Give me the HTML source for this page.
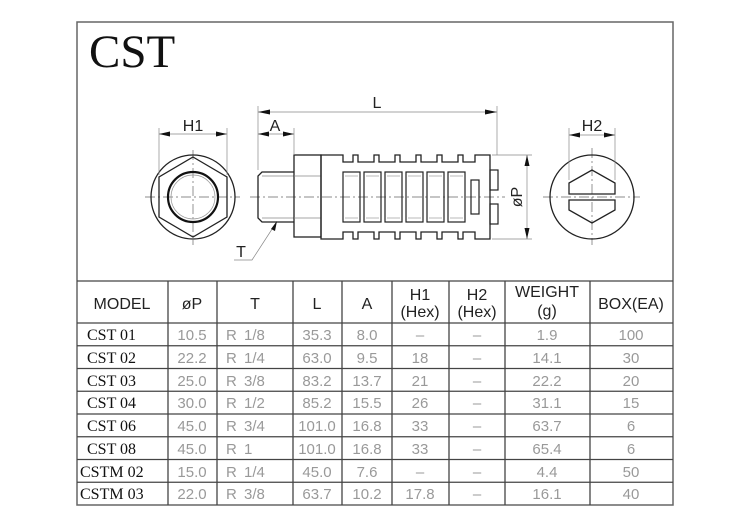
<!DOCTYPE html>
<html><head><meta charset="utf-8"><style>
html,body{margin:0;padding:0;background:#fff;}
svg{display:block;}
.d{fill:none;stroke:#222;stroke-width:1.3}
.t{fill:none;stroke:#888;stroke-width:0.7}
.c{fill:none;stroke:#666;stroke-width:0.7;stroke-dasharray:10 3 2 3}
.h{font-family:"Liberation Sans",sans-serif;font-size:16px;fill:#222;text-anchor:middle}
.v{font-family:"Liberation Sans",sans-serif;font-size:15px;fill:#999;text-anchor:middle}
.m{font-family:"Liberation Serif",serif;font-size:16px;fill:#111}
</style></head><body>
<svg width="750" height="530" viewBox="0 0 750 530" xmlns="http://www.w3.org/2000/svg">
<rect x="77" y="22" width="596" height="483" fill="none" stroke="#666" stroke-width="1.5"/>
<text x="89" y="67" font-family="Liberation Serif,serif" font-size="47" fill="#111">CST</text>

<line class="c" x1="145" y1="197" x2="240" y2="197"/>
<line class="c" x1="193" y1="150" x2="193" y2="245"/>
<circle class="d" cx="193" cy="197" r="42"/>
<polygon class="d" points="193,157 227,177 227,217 193,237 159,217 159,177"/>
<circle cx="193" cy="197" r="25" fill="none" stroke="#111" stroke-width="2.2"/>
<circle cx="193" cy="197" r="22" fill="none" stroke="#999" stroke-width="0.7"/>
<line class="t" x1="159" y1="175" x2="159" y2="128"/><line class="t" x1="227" y1="175" x2="227" y2="128"/>
<line class="t" x1="159" y1="134" x2="227" y2="134"/>
<polygon points="159,134 170,131.5 170,136.5" fill="#111"/><polygon points="227,134 216,131.5 216,136.5" fill="#111"/>
<text class="h" x="193" y="131">H1</text>

<line class="c" x1="250" y1="197" x2="505" y2="197"/>
<path class="d" d="M294,172 H262 L258,176 V218 L262,222 H294"/>
<line class="t" x1="262" y1="176" x2="294" y2="176"/><line class="t" x1="262" y1="218" x2="294" y2="218"/>
<rect class="d" x="294" y="155" width="27" height="82"/>
<line class="t" x1="294" y1="176" x2="321" y2="176"/><line class="t" x1="294" y1="218" x2="321" y2="218"/>
<path class="d" d="M321,155 H343 V162 H353 V155 H358 V162 H374 V155 H379 V162 H395 V155 H400 V162 H416 V155 H421 V162 H437 V155 H442 V162 H458 V155 H463 V162 H475 V155 H490 V239 H475 V232 H463 V239 H458 V232 H442 V239 H437 V232 H421 V239 H416 V232 H400 V239 H395 V232 H379 V239 H374 V232 H358 V239 H353 V232 H343 V239 H321 Z"/>
<g fill="none" stroke="#222" stroke-width="1.2">
<rect x="343" y="172" width="17" height="50"/><rect x="364" y="172" width="17" height="50"/><rect x="385" y="172" width="17" height="50"/>
<rect x="406" y="172" width="17" height="50"/><rect x="427" y="172" width="17" height="50"/><rect x="448" y="172" width="17" height="50"/>
<rect x="471" y="180" width="8" height="34"/>
<rect x="490" y="170" width="8" height="20"/><rect x="490" y="204" width="8" height="20"/>
</g>
<g stroke="#777" stroke-width="0.6" fill="none">
<path d="M345,176 h13 M345,218 h13 M366,176 h13 M366,218 h13 M387,176 h13 M387,218 h13 M408,176 h13 M408,218 h13 M429,176 h13 M429,218 h13 M450,176 h13 M450,218 h13"/>
</g>
<line class="t" x1="258" y1="170" x2="258" y2="106"/><line class="t" x1="497" y1="155" x2="497" y2="106"/>
<line class="t" x1="258" y1="112" x2="497" y2="112"/>
<polygon points="258,112 270,109.5 270,114.5" fill="#111"/><polygon points="497,112 485,109.5 485,114.5" fill="#111"/>
<text class="h" x="377" y="108">L</text>
<line class="t" x1="294" y1="155" x2="294" y2="128"/>
<line class="t" x1="258" y1="134" x2="294" y2="134"/>
<polygon points="258,134 269,131.5 269,136.5" fill="#111"/><polygon points="294,134 283,131.5 283,136.5" fill="#111"/>
<text class="h" x="275" y="131">A</text>
<polyline class="t" points="234,260 252,260 276,223"/>
<polygon points="277,221 271,229 275,231" fill="#111"/>
<text class="h" x="241" y="257">T</text>
<line class="t" x1="492" y1="155" x2="532" y2="155"/><line class="t" x1="492" y1="239" x2="532" y2="239"/>
<line class="t" x1="527" y1="155" x2="527" y2="239"/>
<polygon points="527,155 524.5,166 529.5,166" fill="#111"/><polygon points="527,239 524.5,228 529.5,228" fill="#111"/>
<text class="h" x="0" y="0" transform="translate(522,197) rotate(-90)">øP</text>

<line class="c" x1="543" y1="197" x2="640" y2="197"/>
<line class="c" x1="592" y1="148" x2="592" y2="245"/>
<circle class="d" cx="592" cy="197" r="42"/>
<path class="d" d="M569,194 V183 L592,170 L615,183 V194 Z M569,200 V210 L592,223 L615,210 V200 Z"/>
<line class="t" x1="569" y1="180" x2="569" y2="128"/><line class="t" x1="615" y1="180" x2="615" y2="128"/>
<line class="t" x1="569" y1="135" x2="615" y2="135"/>
<polygon points="569,135 580,132.5 580,137.5" fill="#111"/><polygon points="615,135 604,132.5 604,137.5" fill="#111"/>
<text class="h" x="592" y="131">H2</text>

<g stroke="#444" stroke-width="1.3">
<line x1="77" y1="281" x2="673" y2="281"/>
<line x1="77" y1="323" x2="673" y2="323"/>
<line x1="77" y1="345.75" x2="673" y2="345.75"/>
<line x1="77" y1="368.5" x2="673" y2="368.5"/>
<line x1="77" y1="391.25" x2="673" y2="391.25"/>
<line x1="77" y1="414" x2="673" y2="414"/>
<line x1="77" y1="436.75" x2="673" y2="436.75"/>
<line x1="77" y1="459.5" x2="673" y2="459.5"/>
<line x1="77" y1="482.25" x2="673" y2="482.25"/>
<line x1="168" y1="281" x2="168" y2="505"/><line x1="217" y1="281" x2="217" y2="505"/>
<line x1="293" y1="281" x2="293" y2="505"/><line x1="342" y1="281" x2="342" y2="505"/>
<line x1="392" y1="281" x2="392" y2="505"/><line x1="449" y1="281" x2="449" y2="505"/>
<line x1="505" y1="281" x2="505" y2="505"/><line x1="590" y1="281" x2="590" y2="505"/>
</g>
<text class="h" x="122" y="309">MODEL</text>
<text class="h" x="192" y="309">øP</text>
<text class="h" x="255" y="309">T</text>
<text class="h" x="317" y="309">L</text>
<text class="h" x="367" y="309">A</text>
<text class="h" x="420" y="300">H1</text><text class="h" x="420" y="317">(Hex)</text>
<text class="h" x="477" y="300">H2</text><text class="h" x="477" y="317">(Hex)</text>
<text class="h" x="547" y="297">WEIGHT</text><text class="h" x="547" y="316">(g)</text>
<text class="h" x="631" y="309">BOX(EA)</text>

<g class="m" xml:space="preserve">
<text x="87" y="340">CST 01</text>
<text x="87" y="363">CST 02</text>
<text x="87" y="386">CST 03</text>
<text x="87" y="408">CST 04</text>
<text x="87" y="431">CST 06</text>
<text x="87" y="454">CST 08</text>
<text x="80" y="477">CSTM  02</text>
<text x="80" y="499">CSTM  03</text>
</g>
<g class="v">
<text x="192" y="340">10.5</text><text x="192" y="363">22.2</text><text x="192" y="386">25.0</text><text x="192" y="408">30.0</text><text x="192" y="431">45.0</text><text x="192" y="454">45.0</text><text x="192" y="477">15.0</text><text x="192" y="499">22.0</text>
<text x="317" y="340">35.3</text><text x="317" y="363">63.0</text><text x="317" y="386">83.2</text><text x="317" y="408">85.2</text><text x="317" y="431">101.0</text><text x="317" y="454">101.0</text><text x="317" y="477">45.0</text><text x="317" y="499">63.7</text>
<text x="367" y="340">8.0</text><text x="367" y="363">9.5</text><text x="367" y="386">13.7</text><text x="367" y="408">15.5</text><text x="367" y="431">16.8</text><text x="367" y="454">16.8</text><text x="367" y="477">7.6</text><text x="367" y="499">10.2</text>
<text x="420" y="340">–</text><text x="420" y="363">18</text><text x="420" y="386">21</text><text x="420" y="408">26</text><text x="420" y="431">33</text><text x="420" y="454">33</text><text x="420" y="477">–</text><text x="420" y="499">17.8</text>
<text x="477" y="340">–</text><text x="477" y="363">–</text><text x="477" y="386">–</text><text x="477" y="408">–</text><text x="477" y="431">–</text><text x="477" y="454">–</text><text x="477" y="477">–</text><text x="477" y="499">–</text>
<text x="547" y="340">1.9</text><text x="547" y="363">14.1</text><text x="547" y="386">22.2</text><text x="547" y="408">31.1</text><text x="547" y="431">63.7</text><text x="547" y="454">65.4</text><text x="547" y="477">4.4</text><text x="547" y="499">16.1</text>
<text x="631" y="340">100</text><text x="631" y="363">30</text><text x="631" y="386">20</text><text x="631" y="408">15</text><text x="631" y="431">6</text><text x="631" y="454">6</text><text x="631" y="477">50</text><text x="631" y="499">40</text>
</g>
<g class="v" style="text-anchor:start">
<text x="226" y="340">R</text><text x="226" y="363">R</text><text x="226" y="386">R</text><text x="226" y="408">R</text><text x="226" y="431">R</text><text x="226" y="454">R</text><text x="226" y="477">R</text><text x="226" y="499">R</text>
<text x="244" y="340">1/8</text><text x="244" y="363">1/4</text><text x="244" y="386">3/8</text><text x="244" y="408">1/2</text><text x="244" y="431">3/4</text><text x="244" y="454">1</text><text x="244" y="477">1/4</text><text x="244" y="499">3/8</text>
</g>
</svg>
</body></html>
